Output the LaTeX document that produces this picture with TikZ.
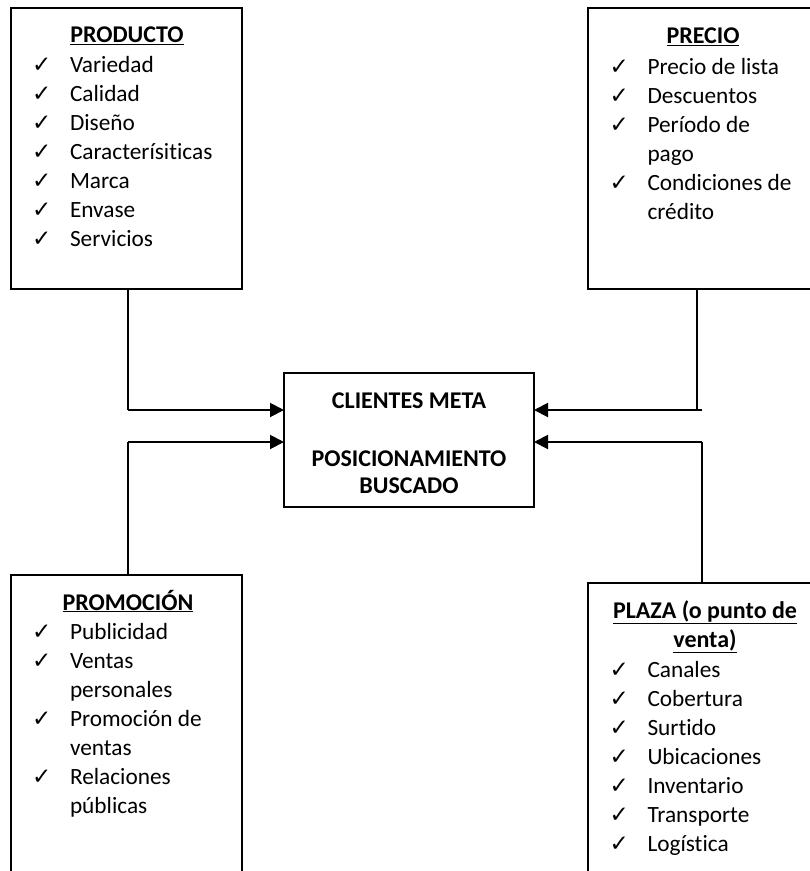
\documentclass[tikz,border=0pt]{standalone}
\usepackage{fontspec}
\setmainfont[Ligatures=NoCommon]{Carlito}
\newfontfamily\symfont{DejaVu Sans}
\usetikzlibrary{arrows.meta}
\newcommand{\chk}{{\symfont\fontsize{23}{23}\selectfont ✓}}
\newcommand{\hd}[1]{\underline{\textbf{#1}}}
\begin{document}
\begin{tikzpicture}[x=1pt,y=-1pt,
  every node/.style={inner sep=0pt, outer sep=0pt, font=\fontsize{23.3}{29}\selectfont},
  box/.style={draw, line width=1.3pt, rectangle, anchor=north west},
  conn/.style={line width=1.4pt},
  arr/.style={line width=2pt, -{Triangle[length=14pt,width=14pt]}},
  head/.style={anchor=base, font=\fontsize{24}{29}\selectfont},
  lst/.style={anchor=base west}]
\useasboundingbox (0,0) rectangle (810,871);
\clip (0,0) rectangle (810,871);
\fill[white] (0,0) rectangle (810,871);

% boxes
\node[box, minimum width=231pt, minimum height=281pt] (prod) at (11,8) {};
\node[box, minimum width=230pt, minimum height=281pt] (prec) at (588,8) {};
\node[box, minimum width=250pt, minimum height=134pt] (cen) at (284,373) {};
\node[box, minimum width=231pt, minimum height=330pt] (prom) at (11,575) {};
\node[box, minimum width=235pt, minimum height=330pt] (plaz) at (588,583) {};

% PRODUCTO
\node[head] (hprod) at (127,42.7) {\hd{PRODUCTO}};
\node[lst] (lprod) at (32,72.7) {\begin{tabular}[t]{@{}p{38pt}@{}l@{}}
\chk & Variedad\\
\chk & Calidad\\
\chk & Diseño\\
\chk & Caracterísiticas\\
\chk & Marca\\
\chk & Envase\\
\chk & Servicios
\end{tabular}};

% PRECIO
\node[head] (hprec) at (703,43.3) {\hd{PRECIO}};
\node[lst] (lprec) at (609.5,74) {\begin{tabular}[t]{@{}p{38pt}@{}l@{}}
\chk & Precio de lista\\
\chk & Descuentos\\
\chk & Período de\\
 & pago\\
\chk & Condiciones de\\
 & crédito
\end{tabular}};

% PROMOCION
\node[head] (hprom) at (128,610) {\hd{PROMOCIÓN}};
\node[lst] (lprom) at (32,639) {\begin{tabular}[t]{@{}p{38pt}@{}l@{}}
\chk & Publicidad\\
\chk & Ventas\\
 & personales\\
\chk & Promoción de\\
 & ventas\\
\chk & Relaciones\\
 & públicas
\end{tabular}};

% PLAZA
\node[head] (hplaz1) at (705,618) {\hd{PLAZA (o punto de}};
\node[head] (hplaz2) at (705,647) {\hd{venta)}};
\node[lst] (lplaz) at (609.5,677) {\begin{tabular}[t]{@{}p{38pt}@{}l@{}}
\chk & Canales\\
\chk & Cobertura\\
\chk & Surtido\\
\chk & Ubicaciones\\
\chk & Inventario\\
\chk & Transporte\\
\chk & Logística
\end{tabular}};

% centre
\node[head] (t1) at (409,408) {\textbf{CLIENTES META}};
\node[head] (t2) at (409,466) {\textbf{POSICIONAMIENTO}};
\node[head] (t3) at (409,493) {\textbf{BUSCADO}};

% connectors
\coordinate (c1) at (128,410);
\coordinate (c2) at (697,410);
\coordinate (c2e) at (702,410);
\coordinate (c3) at (128,442);
\coordinate (c4) at (702,442);

\draw[conn] (prod.south -| c1) -- (c1);
\draw[arr] (c1) -- (cen.west |- c1);
\draw[conn] (prec.south -| c2) -- (c2);
\draw[arr] (c2e) -- (cen.east |- c2e);
\draw[conn] (prom.north -| c3) -- (c3);
\draw[arr] (c3) -- (cen.west |- c3);
\draw[conn] (plaz.north -| c4) -- (c4);
\draw[arr] (c4) -- (cen.east |- c4);
\end{tikzpicture}
\end{document}
